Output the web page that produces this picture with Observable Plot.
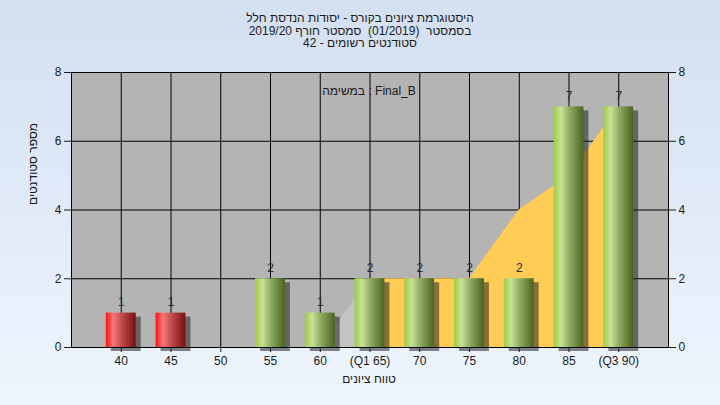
<!DOCTYPE html>
<html><head><meta charset="utf-8">
<script src="https://cdn.jsdelivr.net/npm/d3@7"></script>
<script src="https://cdn.jsdelivr.net/npm/@observablehq/plot@0.6"></script>
<style>
body{margin:0}
#wrap{position:relative;width:720px;height:405px;background:linear-gradient(#d3e0f2,#eef5fe);font-family:"Liberation Sans","DejaVu Sans",sans-serif;color:#1a1a1a;overflow:hidden}
#title{position:relative;height:50px}
#title div{position:absolute;left:0;width:720px;text-align:center;font-size:12px;line-height:14px;white-space:pre;direction:rtl;unicode-bidi:isolate}
</style></head><body>
<div id="wrap"><div id="title"></div><div id="chart"></div></div>
<script>
const titleLines = [
  "היסטוגרמת ציונים בקורס - יסודות הנדסת חלל",
  "בסמסטר  (01/2019)  סמסטר חורף 2019/20",
  "סטודנטים רשומים - 42"
];
const scores = [40, 45, 50, 55, 60, 65, 70, 75, 80, 85, 90];
const counts = [1, 1, 0, 2, 1, 2, 2, 2, 2, 7, 7];
const failing = [true, true, true, false, false, false, false, false, false, false, false];
const tickLabels = ["40", "45", "50", "55", "60", "(Q1 65)", "70", "75", "80", "85", "(Q3 90)"];
const yTicks = [0, 2, 4, 6, 8];
const areaScores = [60, 65, 70, 75, 80, 85, 90];
const areaValues = [0, 2, 2, 2, 4, 5, 7];
const legendText = "במשימה : Final_B";
const xLabel = "טווח ציונים";
const yLabel = "מספר סטודנטים";

const title = document.getElementById("title");
titleLines.forEach((t, i) => {
  const d = document.createElement("div");
  d.style.top = (11 + i * 12.5) + "px";
  d.textContent = t;
  title.appendChild(d);
});

const bars = scores.map((s, i) => ({score: s, count: counts[i], fail: failing[i]})).filter(d => d.count > 0);
const area = areaScores.map((s, i) => ({score: s, value: areaValues[i]}));
const areaLow = area.filter(d => d.score <= 65);
const areaHigh = area.filter(d => d.score >= 65);
const halfW = 1.5;

const svg = Plot.plot({
  width: 720,
  height: 355,
  marginTop: 22,
  marginBottom: 58,
  marginLeft: 71,
  marginRight: 52,
  style: {background: "transparent", fontSize: "12px", fontFamily: "'Liberation Sans','DejaVu Sans',sans-serif", color: "#1a1a1a", overflow: "visible"},
  x: {type: "linear", domain: [35, 95], ticks: scores, tickFormat: d => tickLabels[scores.indexOf(d)], tickSize: 5, label: null},
  y: {domain: [0, 8], ticks: yTicks, tickSize: 7, axis: "both", label: null},
  marks: [
    Plot.frame({fill: "#b4b4b4"}),
    Plot.ruleX(scores, {stroke: "black", strokeWidth: 1}),
    Plot.ruleY(yTicks, {stroke: "black", strokeWidth: 1}),
    Plot.areaY(areaLow, {x: "score", y: "value", fill: "#c3c3c3"}),
    Plot.areaY(areaHigh, {x: "score", y: "value", fill: "#ffcc55"}),
    Plot.rectY(bars, {x1: d => d.score - halfW, x2: d => d.score + halfW, y: "count", fill: "#222", fillOpacity: 0.55, dx: 5, dy: 4, ariaLabel: "shadow"}),
    Plot.rectY(bars.filter(d => d.fail), {x1: d => d.score - halfW, x2: d => d.score + halfW, y: "count", fill: "url(#gRed)"}),
    Plot.rectY(bars.filter(d => !d.fail), {x1: d => d.score - halfW, x2: d => d.score + halfW, y: "count", fill: "url(#gGreen)"}),
    Plot.text(bars, {x: "score", y: "count", text: d => String(d.count), dy: -11, fill: "#2a2a2a"}),
    Plot.frame({stroke: "black"}),
    Plot.text([legendText], {frameAnchor: "top", text: d => d, dy: 14, dx: -1, fill: "#1a1a1a"}),
    Plot.text([xLabel], {frameAnchor: "bottom", text: d => d, dy: 35, dx: -1, fill: "#1a1a1a"}),
    Plot.text([yLabel], {frameAnchor: "left", text: d => d, dx: -38, dy: -5, rotate: -90, fill: "#1a1a1a"})
  ]
});

const s = d3.select(svg);
const defs = s.insert("defs", ":first-child");
function grad(id, stops) {
  const g = defs.append("linearGradient").attr("id", id).attr("x1", "0%").attr("x2", "100%").attr("y1", "0%").attr("y2", "0%");
  for (const [o, c] of stops) g.append("stop").attr("offset", o).attr("stop-color", c);
}
grad("gGreen", [["0%", "#9ccc42"], ["25%", "#c8e296"], ["55%", "#8aa860"], ["100%", "#4a6420"]]);
grad("gRed", [["0%", "#ff1010"], ["25%", "#f27a7a"], ["55%", "#c04848"], ["100%", "#781010"]]);
const f = defs.append("filter").attr("id", "blur").attr("x", "-50%").attr("y", "-50%").attr("width", "200%").attr("height", "200%");
f.append("feGaussianBlur").attr("stdDeviation", 2);
s.selectAll("g[aria-label=shadow]").attr("filter", "url(#blur)");

document.getElementById("chart").appendChild(svg);
</script>
</body></html>
